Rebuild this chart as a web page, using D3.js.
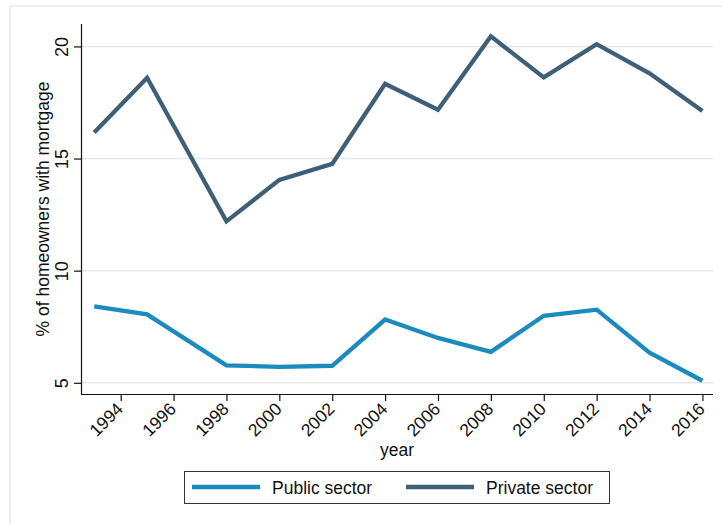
<!DOCTYPE html>
<html>
<head>
<meta charset="utf-8">
<script src="https://cdn.jsdelivr.net/npm/d3@7"></script>
<style>
  html, body { margin: 0; padding: 0; background: #fff; }
  svg { display: block; font-family: "Liberation Sans", Arial, Helvetica, sans-serif; }
</style>
</head>
<body>
<svg id="chart" width="722" height="524"></svg>
<script>
// Survey years and share of homeowners holding a mortgage (%)
const years = [1993, 1995, 1998, 2000, 2002, 2004, 2006, 2008, 2010, 2012, 2014, 2016];
const publicSector  = [8.41, 8.05, 5.78, 5.71, 5.76, 7.82, 7.00, 6.38, 7.99, 8.26, 6.34, 5.09];
const privateSector = [16.16, 18.6, 12.2, 14.05, 14.76, 18.33, 17.18, 20.45, 18.62, 20.1, 18.8, 17.12];
const xTicks = [1994, 1996, 1998, 2000, 2002, 2004, 2006, 2008, 2010, 2012, 2014, 2016];
const yTicks = [5, 10, 15, 20];
const seriesNames = ["Public sector", "Private sector"];
const seriesColors = ["#1b8bbf", "#3f5f77"];

const svg = d3.select("#chart");

// light frame around the graph region
svg.append("line").attr("x1", 10).attr("x2", 730).attr("y1", 6).attr("y2", 6)
  .attr("stroke", "#e2e2e2").attr("stroke-width", 1.2);
svg.append("line").attr("x1", 10).attr("x2", 10).attr("y1", 6).attr("y2", 530)
  .attr("stroke", "#e2e2e2").attr("stroke-width", 1.2);

const plot = { left: 81, right: 713, top: 24, bottom: 394 };

const x = d3.scaleLinear().domain([1992.5, 2016.4]).range([plot.left, plot.right]);
const y = d3.scaleLinear().domain([4.5, 21]).range([plot.bottom, plot.top]);

// horizontal grid
svg.append("g").selectAll("line").data(yTicks).join("line")
  .attr("x1", plot.left).attr("x2", plot.right)
  .attr("y1", d => y(d)).attr("y2", d => y(d))
  .attr("stroke", "#e6e6e6").attr("stroke-width", 1.5);

// y axis
const yAxis = svg.append("g").attr("transform", `translate(${plot.left},0)`)
  .call(d3.axisLeft(y).tickValues(yTicks).tickSize(7).tickPadding(6).tickSizeOuter(0));
yAxis.select(".domain").attr("stroke", "#111").attr("stroke-width", 1.2)
  .attr("d", `M0.5,${plot.top}V${plot.bottom}`);
yAxis.selectAll(".tick line").attr("stroke", "#111").attr("stroke-width", 1.2);
yAxis.selectAll(".tick text")
  .attr("font-size", 18).attr("fill", "#111")
  .attr("text-anchor", "middle").attr("dy", 0).attr("x", 0)
  .attr("transform", "translate(-13,0) rotate(-90)");

// x axis
const xAxis = svg.append("g").attr("transform", `translate(0,${plot.bottom})`)
  .call(d3.axisBottom(x).tickValues(xTicks).tickFormat(d3.format("d")).tickSize(7).tickSizeOuter(0));
xAxis.select(".domain").attr("stroke", "#111").attr("stroke-width", 1.2)
  .attr("d", `M${plot.left},0.5H${plot.right}`);
xAxis.selectAll(".tick line").attr("stroke", "#111").attr("stroke-width", 1.2);
xAxis.selectAll(".tick text")
  .attr("font-size", 17.5).attr("fill", "#111")
  .attr("text-anchor", "end").attr("y", 0).attr("dy", 0)
  .attr("transform", "translate(3,16) rotate(-45)");

// axis titles
svg.append("text").attr("x", (plot.left + plot.right) / 2).attr("y", 456)
  .attr("text-anchor", "middle").attr("font-size", 17.5).attr("fill", "#111").text("year");
svg.append("text").attr("transform", `translate(49,${(plot.top + plot.bottom) / 2}) rotate(-90)`)
  .attr("text-anchor", "middle").attr("font-size", 17.5).attr("fill", "#111")
  .text("% of homeowners with mortgage");

// series lines
const line = d3.line().x((d, i) => x(years[i])).y(d => y(d));
[publicSector, privateSector].forEach((vals, k) => {
  svg.append("path").datum(vals)
    .attr("d", line)
    .attr("fill", "none")
    .attr("stroke", seriesColors[k])
    .attr("stroke-width", 4.3)
    .attr("stroke-linejoin", "miter");
});

// legend
const legend = svg.append("g");
legend.append("rect").attr("x", 184.5).attr("y", 471.5).attr("width", 425).attr("height", 32)
  .attr("fill", "#fff").attr("stroke", "#333").attr("stroke-width", 1);
const legendItems = [{ x0: 192, tx: 272 }, { x0: 406, tx: 486 }];
legendItems.forEach((it, k) => {
  legend.append("line").attr("x1", it.x0).attr("x2", it.x0 + 68).attr("y1", 487).attr("y2", 487)
    .attr("stroke", seriesColors[k]).attr("stroke-width", 4.3);
  legend.append("text").attr("x", it.tx).attr("y", 494)
    .attr("font-size", 17.5).attr("fill", "#111").text(seriesNames[k]);
});
</script>
</body>
</html>
